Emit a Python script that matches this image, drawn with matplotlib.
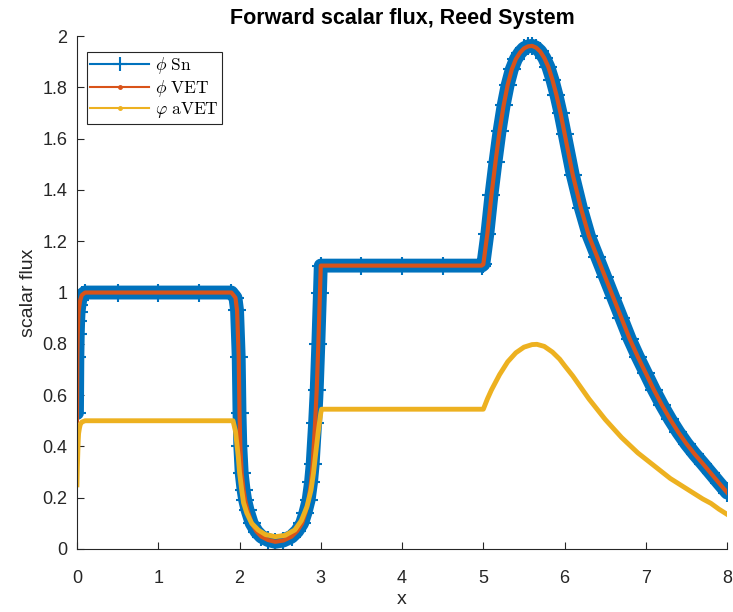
import numpy as np
import matplotlib
matplotlib.use("Agg")
import matplotlib.pyplot as plt
from matplotlib.lines import Line2D
from matplotlib.ticker import FormatStrFormatter

plt.rcParams['font.family'] = ['Liberation Sans', 'DejaVu Sans']
plt.rcParams['mathtext.fontset'] = 'cm'

# scalar flux (Sn and VET share the mesh)
x_phi = [0.0, 0.005, 0.01, 0.015, 0.02, 0.03, 0.04, 0.06, 0.1, 0.5, 1.0, 1.5,
         1.9, 1.95, 1.97, 1.99, 2.0, 2.01, 2.027, 2.05, 2.07, 2.1, 2.15, 2.21, 2.27,
         2.35, 2.44, 2.54, 2.64, 2.71, 2.77, 2.81, 2.85, 2.88, 2.9, 2.93, 2.95, 2.97,
         2.99, 3.0, 3.5, 4.0, 4.5, 4.98, 5.0, 5.05, 5.1, 5.15, 5.2, 5.25, 5.3,
         5.35, 5.4, 5.45, 5.5, 5.55, 5.6, 5.65, 5.7, 5.75, 5.8, 5.85, 5.9, 5.95,
         6.0, 6.1, 6.2, 6.3, 6.4, 6.5, 6.6, 6.7, 6.8, 6.9, 7.0, 7.1, 7.2, 7.3,
         7.4, 7.5, 7.6, 7.7, 7.8, 7.9, 8.0]
phi_sn = [0.53, 0.75, 0.84, 0.89, 0.925, 0.95, 0.97, 0.99, 1.0, 1.0, 1.0, 1.0,
          1.0, 0.98, 0.93, 0.75, 0.53, 0.4, 0.295, 0.23, 0.19, 0.15, 0.1, 0.068, 0.048,
          0.035, 0.028, 0.033, 0.048, 0.07, 0.1, 0.14, 0.19, 0.26, 0.33, 0.49, 0.62, 0.8,
          1.0, 1.105, 1.105, 1.105, 1.105, 1.105, 1.11, 1.23, 1.38, 1.51, 1.63, 1.73, 1.81,
          1.87, 1.91, 1.935, 1.952, 1.96, 1.962, 1.955, 1.94, 1.915, 1.88, 1.83, 1.77, 1.7,
          1.62, 1.46, 1.33, 1.22, 1.14, 1.06, 0.98, 0.9, 0.82, 0.75, 0.685, 0.62, 0.56, 0.505,
          0.455, 0.41, 0.37, 0.333, 0.295, 0.257, 0.22]
phi_vet = [0.5, 0.75, 0.84, 0.89, 0.925, 0.95, 0.97, 0.99, 1.0, 1.0, 1.0, 1.0,
           1.0, 0.98, 0.93, 0.75, 0.53, 0.4, 0.295, 0.23, 0.19, 0.15, 0.1, 0.068, 0.048,
           0.035, 0.028, 0.033, 0.048, 0.07, 0.1, 0.14, 0.19, 0.26, 0.33, 0.49, 0.62, 0.8,
           1.0, 1.105, 1.105, 1.105, 1.105, 1.105, 1.11, 1.23, 1.38, 1.51, 1.63, 1.73, 1.81,
           1.87, 1.91, 1.935, 1.952, 1.96, 1.962, 1.955, 1.94, 1.915, 1.88, 1.83, 1.77, 1.7,
           1.62, 1.46, 1.33, 1.22, 1.14, 1.06, 0.98, 0.9, 0.82, 0.75, 0.685, 0.62, 0.56, 0.505,
           0.455, 0.41, 0.37, 0.333, 0.295, 0.257, 0.22]

x_avet = [0.0, 0.005, 0.01, 0.015, 0.02, 0.03, 0.04, 0.06, 0.1, 0.5, 1.0, 1.5,
          1.92, 1.95, 1.985, 2.0, 2.027, 2.05, 2.09, 2.15, 2.23, 2.32, 2.44, 2.56,
          2.68, 2.76, 2.83, 2.88, 2.91, 2.94, 2.97, 3.0, 3.01, 3.5, 4.0, 4.5, 5.0,
          5.05, 5.1, 5.2, 5.3, 5.4, 5.5, 5.6, 5.66, 5.75, 5.85, 5.94, 6.0, 6.1, 6.2,
          6.3, 6.4, 6.5, 6.6, 6.7, 6.8, 6.9, 7.0, 7.1, 7.2, 7.3, 7.4, 7.5, 7.6,
          7.7, 7.8, 7.9, 8.0]
phi_avet = [0.25, 0.32, 0.37, 0.42, 0.45, 0.47, 0.485, 0.495, 0.5, 0.5, 0.5, 0.5,
            0.5, 0.46, 0.36, 0.3, 0.23, 0.18, 0.14, 0.1, 0.074, 0.056, 0.048, 0.053,
            0.074, 0.11, 0.165, 0.23, 0.295, 0.38, 0.46, 0.53, 0.545, 0.545, 0.545, 0.545, 0.545,
            0.585, 0.62, 0.68, 0.73, 0.765, 0.787, 0.797, 0.798, 0.79, 0.768, 0.74, 0.715, 0.675, 0.63,
            0.585, 0.545, 0.505, 0.47, 0.435, 0.405, 0.375, 0.35, 0.325, 0.3, 0.275, 0.255, 0.235, 0.215,
            0.195, 0.178, 0.155, 0.135]

blue = '#0072BD'
orange = '#D95319'
yellow = '#EDB120'

fig = plt.figure(figsize=(7.33, 6.12), dpi=100)
ax = fig.add_axes([0.105, 0.103, 0.887, 0.838])

# thick band made by the dense Sn markers
ax.plot(x_phi, phi_sn, color=blue, lw=10, solid_capstyle='round', solid_joinstyle='round')
ax.plot(x_phi, phi_sn, color=blue, lw=1.5, marker='+', markersize=13, mew=1.5)
ax.plot(x_phi, phi_vet, color=orange, lw=3, solid_joinstyle='round')
ax.plot(x_avet, phi_avet, color=yellow, lw=3.5, solid_joinstyle='round')

ax.set_xlim(0, 8)
ax.set_ylim(0, 2)
ax.set_xticks(np.arange(0, 9, 1))
ax.set_yticks(np.arange(0, 2.01, 0.2))
ax.yaxis.set_major_formatter(FormatStrFormatter('%g'))
ax.spines['top'].set_visible(False)
ax.spines['right'].set_visible(False)
for s in ['left', 'bottom']:
    ax.spines[s].set_color('#262626')
    ax.spines[s].set_linewidth(0.8)
ax.tick_params(direction='in', length=5, width=0.8, colors='#262626', labelsize=13)
ax.tick_params(axis='y', pad=7)
ax.tick_params(axis='x', pad=15)

ax.set_title('Forward scalar flux, Reed System', fontsize=15.5, fontweight='bold', pad=9)
ax.set_xlabel('x', fontsize=14, color='#262626', labelpad=3)
ax.set_ylabel('scalar flux', fontsize=14, color='#262626', labelpad=4)

handles = [Line2D([], [], color=blue, lw=1.5, marker='+', markersize=10, mew=1.5),
           Line2D([], [], color=orange, lw=1.5, marker='.', markersize=5),
           Line2D([], [], color=yellow, lw=1.5, marker='.', markersize=5)]
labels = [r'$\phi\ \mathrm{Sn}$', r'$\phi\ \mathrm{VET}$', r'$\varphi\ \mathrm{aVET}$']
leg = ax.legend(handles, labels, loc='upper left', bbox_to_anchor=(0.0154, 0.969),
                borderaxespad=0, fontsize=12.5, fancybox=False, framealpha=1,
                edgecolor='#262626', handlelength=3.4, borderpad=0.2,
                labelspacing=0.08, handletextpad=0.3)
leg.get_frame().set_linewidth(0.8)

fig.savefig('out.png', dpi=100)
